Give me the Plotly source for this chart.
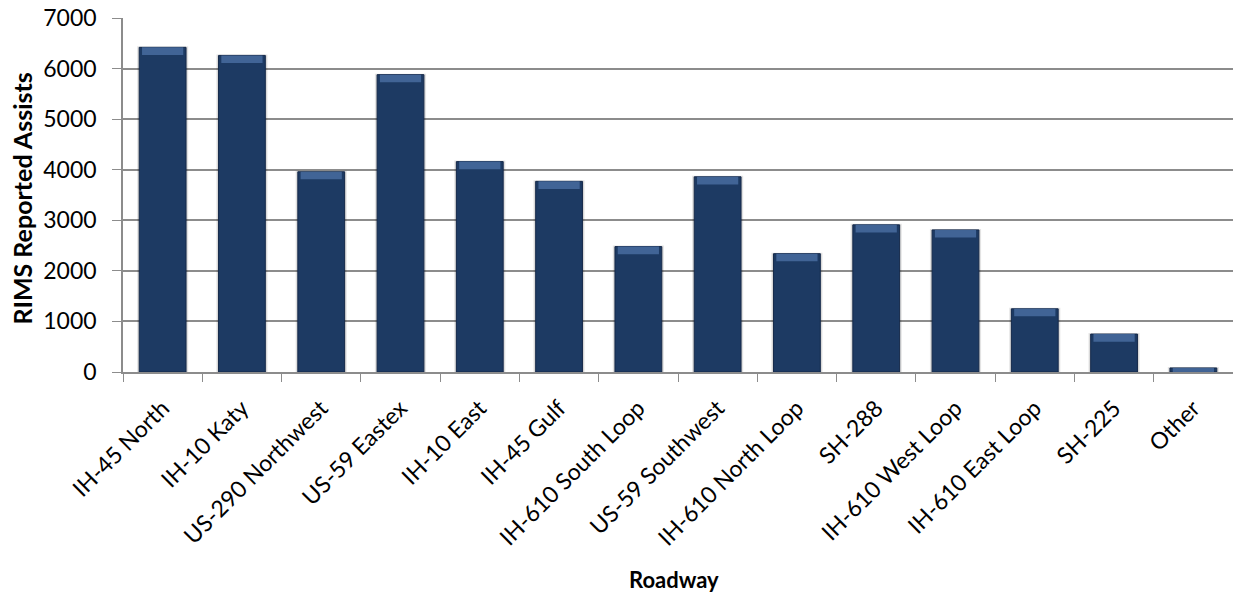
import plotly.graph_objects as go

roadways = [
    "IH-45 North", "IH-10 Katy", "US-290 Northwest", "US-59 Eastex", "IH-10 East",
    "IH-45 Gulf", "IH-610 South Loop", "US-59 Southwest", "IH-610 North Loop",
    "SH-288", "IH-610 West Loop", "IH-610 East Loop", "SH-225", "Other",
]
assists = [6420, 6260, 3960, 5880, 4160, 3770, 2480, 3860, 2340, 2910, 2810, 1250, 750, 80]
y_ticks = [0, 1000, 2000, 3000, 4000, 5000, 6000, 7000]

FONT = "Lato"
BAR = "#1d3a63"
HILITE = "#4a6fa3"
BEVEL = 150  # height of the lighter top strip, in data units

PLOT_W = 1110  # plot-area width in px, used to place the titles

fig = go.Figure()
# soft halo behind each bar
fig.add_trace(go.Bar(
    x=roadways, y=assists,
    marker=dict(color="rgba(0,0,0,0.10)", line=dict(color="rgba(0,0,0,0.10)", width=2)),
    width=0.62, hoverinfo="skip",
))
fig.add_trace(go.Bar(
    x=roadways, y=assists,
    marker=dict(color=BAR, line=dict(color="#15294a", width=1)),
    width=0.59, hoverinfo="x+y",
))
# lighter bevel strip along each bar top
fig.add_trace(go.Bar(
    x=roadways, y=[min(BEVEL, v) for v in assists],
    base=[v - min(BEVEL, v) for v in assists],
    marker=dict(color=HILITE, line=dict(width=0)),
    width=0.52, hoverinfo="skip", opacity=0.8,
))

fig.update_layout(
    width=1233, height=595,
    margin=dict(l=123, r=0, t=18, b=223),
    paper_bgcolor="white", plot_bgcolor="white",
    showlegend=False, barmode="overlay",
    font=dict(family=FONT, size=23, color="black"),
    xaxis=dict(
        type="category", range=[-0.5, 13.5], tickangle=-45,
        tickson="boundaries", ticks="outside", ticklen=8, tickcolor="#8c8c8c",
        ticklabelstandoff=12,
        showline=True, linecolor="#8c8c8c", linewidth=1.5,
        showgrid=False, tickfont=dict(family=FONT, size=23),
    ),
    yaxis=dict(
        range=[0, 7000], tickvals=y_ticks, ticktext=[str(t) for t in y_ticks],
        ticks="outside", ticklen=9, tickcolor="#8c8c8c", ticklabelstandoff=11,
        showline=True, linecolor="#8c8c8c", linewidth=1.5,
        showgrid=True, gridcolor="#8c8c8c", gridwidth=1.5,
        zeroline=False, tickfont=dict(family=FONT, size=23),
    ),
    annotations=[
        dict(text="<b>RIMS Reported Assists</b>", xref="paper", yref="paper",
             x=(22 - 123) / PLOT_W, xanchor="center", y=0.49, yanchor="middle",
             textangle=-90, showarrow=False, font=dict(family=FONT, size=25)),
        dict(text="<b>Roadway</b>", xref="paper", yref="paper",
             x=(674 - 123) / PLOT_W, y=-0.585, xanchor="center", yanchor="middle",
             showarrow=False, font=dict(family=FONT, size=22)),
    ],
)

fig.write_html("out.html")
